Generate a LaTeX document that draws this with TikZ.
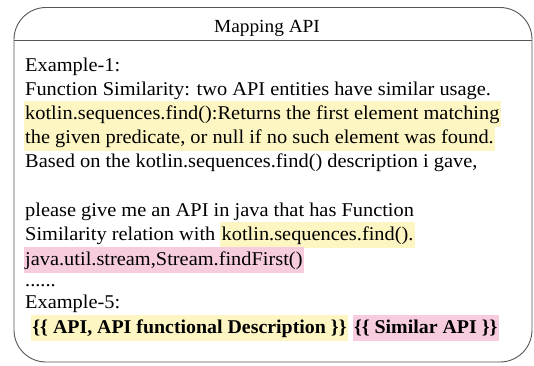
\documentclass[tikz,border=0pt]{standalone}
\usepackage{fontspec}
\setmainfont{Liberation Serif}[FakeStretch=1.045]
\newfontfamily\boldrun{Liberation Serif}[FakeStretch=1.02]
\definecolor{hly}{HTML}{FDF5C2}
\definecolor{hlp}{HTML}{F7CCDF}
\definecolor{edge}{HTML}{555555}
% highlighted runs: a strut keeps consecutive lines joined
\newcommand{\hlY}[1]{{\setlength\fboxsep{1.2pt}\colorbox{hly}{\strut #1}}}
\newcommand{\hlP}[1]{{\setlength\fboxsep{1.2pt}\colorbox{hlp}{\strut #1}}}
\begin{document}
\begin{tikzpicture}[x=1pt,y=-1pt,
  line/.style={anchor=base west,inner sep=0pt,font=\fontsize{19.5}{24}\selectfont},
  title/.style={anchor=base,inner sep=0pt,font=\fontsize{18.5}{22}\selectfont}]
\useasboundingbox (0,0) rectangle (534,365);
% outer frame and header rule
\draw[edge,line width=0.9pt,rounded corners=32pt] (14,7.5) rectangle (532,362);
\draw[edge,line width=0.9pt] (14,40) -- (532,40);
\node[title] (head) at (267,32) {Mapping API};
% body text
\node[line] (l1) at (25,71) {Example-1:};
\node[line] (l2) at (25,95) {Function Similarity: two API entities have similar usage.};
\node[line] (l3) at (23.8,119) {\hlY{kotlin.sequences.find():Returns the first element matching}};
\node[line] (l4) at (23.8,143) {\hlY{the given predicate, or null if no such element was found.}};
\node[line] (l5) at (25,167) {Based on the kotlin.sequences.find() description i gave,};
\node[line] (l6) at (25,216) {please give me an API in java that has Function};
\node[line] (l7) at (25,240) {Similarity relation with \hlY{kotlin.sequences.find().}};
\node[line] (l8) at (23.8,265) {\hlP{java.util.stream,Stream.findFirst()}};
\node[line] (l9) at (25,286) {......};
\node[line] (l10) at (25,308) {Example-5:};
\node[line,font=\fontsize{19.5}{24}\selectfont\boldrun\bfseries] (l11) at (31,333)
  {\hlY{\{\{ API, API functional Description \}\}} \hlP{\{\{ Similar API \}\}}};
\end{tikzpicture}
\end{document}
